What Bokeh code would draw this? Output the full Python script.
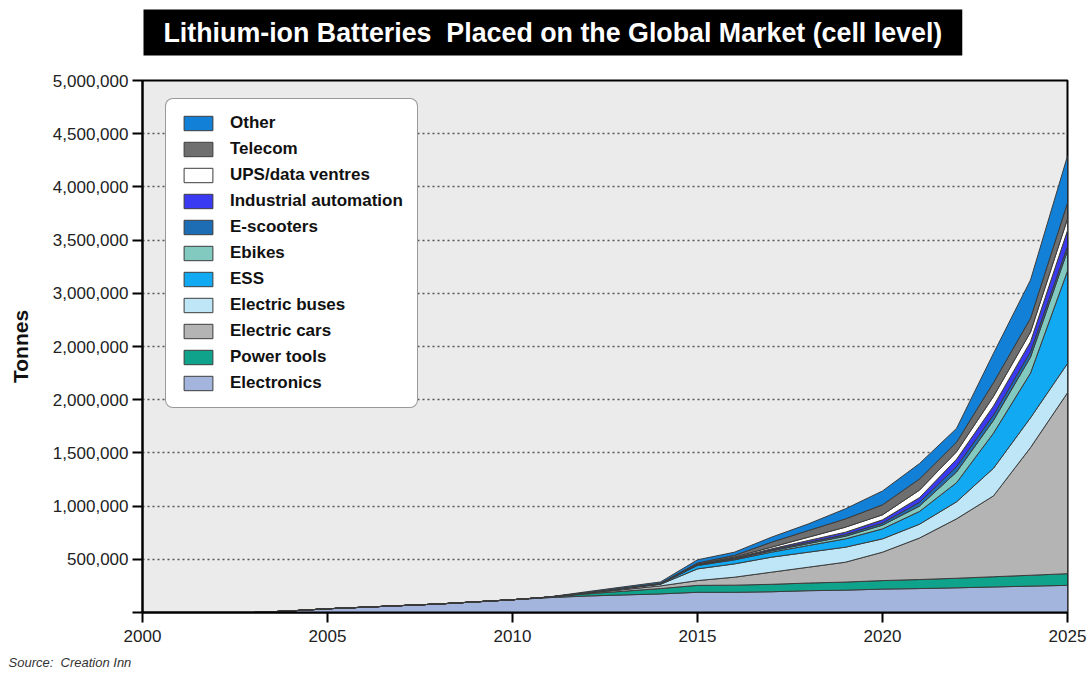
import numpy as np
from bokeh.plotting import figure
from bokeh.models import (Legend, LegendItem, Title, FixedTicker,
                          NumeralTickFormatter, Range1d)
from bokeh.embed import file_html
from bokeh.resources import INLINE

# ---------------- data ----------------
years = list(range(2000, 2026))
electronics = [0, 0, 0, 0, 15000, 35000, 50000, 65000, 80000, 100000, 120000,
               140000, 155000, 165000, 175000, 190000, 190000, 195000, 205000,
               210000, 220000, 225000, 232000, 240000, 248000, 255000]
power_tools = [0] * 11 + [5000, 20000, 35000, 50000, 65000, 67000, 70000, 72000,
                          76000, 80000, 85000, 90000, 96000, 102000, 110000]
electric_cars = [0] * 12 + [5000, 15000, 25000, 45000, 75000, 114000, 149000,
                            187000, 267000, 390000, 558000, 760000, 1200000, 1700000]
electric_buses = [0] * 12 + [5000, 10000, 15000, 110000, 125000, 141000, 141000,
                             141000, 125000, 130000, 160000, 260000, 280000, 275000]
ess = [0] * 13 + [2000, 3000, 32000, 38000, 47000, 63000, 78000, 94000, 120000,
                  180000, 330000, 420000, 870000]
ebikes = [0] * 13 + [1000, 2000, 5000, 8000, 12000, 18000, 25000, 35000, 50000,
                     100000, 120000, 150000, 190000]
escooters = [0] * 13 + [1000, 2000, 4000, 6000, 9000, 12000, 15000, 20000, 35000,
                        50000, 50000, 50000, 40000]
industrial = [0] * 15 + [2000, 5000, 10000, 17000, 23000, 30000, 45000, 70000,
                         85000, 95000, 150000]
ups = [0] * 15 + [2000, 8000, 16000, 31000, 47000, 47000, 70000, 70000, 90000,
                  90000, 110000]
telecom = [0] * 12 + [2000, 2000, 3000, 10000, 15000, 47000, 63000, 78000, 94000,
                      105000, 90000, 130000, 130000, 150000]
other = [0] * 11 + [2000, 8000, 10000, 12000, 30000, 30000, 47000, 62000, 95000,
                    130000, 145000, 130000, 275000, 360000, 440000]

series_names = ["Electronics", "Power tools", "Electric cars", "Electric buses",
                "ESS", "Ebikes", "E-scooters", "Industrial automation",
                "UPS/data ventres", "Telecom", "Other"]
series_values = [electronics, power_tools, electric_cars, electric_buses, ess,
                 ebikes, escooters, industrial, ups, telecom, other]
series_colors = ["#a3b5dd", "#0fa38b", "#b4b4b4", "#bfe6f7", "#10a9f2",
                 "#82c9c0", "#1c6db3", "#3a3af2", "#ffffff", "#6f6f6f", "#1180d6"]

x_ticks = [2000, 2005, 2010, 2015, 2020, 2025]
y_ticks = [0, 500000, 1000000, 1500000, 2000000, 2500000, 3000000, 3500000,
           4000000, 4500000, 5000000]
y_tick_labels = ["", "500,000", "1,000,000", "1,500,000", "2,000,000", "2,000,000",
                 "3,000,000", "3,500,000", "4,000,000", "4,500,000", "5,000,000"]

FONT = "Liberation Sans"

p = figure(width=1089, height=680, output_backend="svg", toolbar_location=None,
           x_range=Range1d(2000, 2025), y_range=Range1d(0, 5000000),
           min_border_left=142, min_border_right=22, min_border_top=80,
           min_border_bottom=68)
p.background_fill_color = "#ebebeb"
p.border_fill_color = "white"
p.outline_line_color = "black"
p.outline_line_width = 2

# stacked areas
base = np.zeros(len(years))
renderers = []
for name, vals, color in zip(series_names, series_values, series_colors):
    top = base + np.array(vals, dtype=float)
    xs = list(years) + list(years[::-1])
    ys = list(top) + list(base[::-1])
    r = p.patch(xs, ys, fill_color=color, line_color="#3c3c3c", line_width=1)
    renderers.append(r)
    base = top

# grid
p.xgrid.visible = False
p.ygrid.grid_line_color = "#555555"
p.ygrid.grid_line_dash = "2 3"
p.ygrid.grid_line_width = 1.5
p.ygrid.ticker = FixedTicker(ticks=y_ticks)

# axes
for ax in (p.xaxis, p.yaxis):
    ax.axis_line_color = "black"
    ax.axis_line_width = 2
    ax.major_tick_line_color = "black"
    ax.major_tick_line_width = 2
    ax.major_tick_out = 10
    ax.major_tick_in = 0
    ax.minor_tick_line_color = None
    ax.major_label_text_font = FONT
    ax.major_label_text_font_size = "17px"
    ax.major_label_text_color = "#222222"

p.xaxis.ticker = FixedTicker(ticks=x_ticks)
p.xaxis.major_label_standoff = 7
p.yaxis.ticker = FixedTicker(ticks=y_ticks)
p.yaxis.formatter = NumeralTickFormatter(format="0,0")
p.yaxis.major_label_overrides = {t: l for t, l in zip(y_ticks, y_tick_labels)}
p.yaxis.major_label_standoff = 4
p.yaxis.axis_label = "Tonnes"
p.yaxis.axis_label_text_font = FONT
p.yaxis.axis_label_text_font_style = "bold"
p.yaxis.axis_label_text_font_size = "21px"
p.yaxis.axis_label_text_color = "#111111"
p.yaxis.axis_label_standoff = 18

# legend
items = [LegendItem(label=n, renderers=[r])
         for n, r in zip(series_names[::-1], renderers[::-1])]
legend = Legend(items=items, location=(23, 204))
legend.background_fill_color = "white"
legend.background_fill_alpha = 1
legend.border_line_color = "#333333"
legend.border_line_width = 1.5
legend.glyph_width = 36
legend.glyph_height = 18
legend.label_height = 19
legend.label_text_font = FONT
legend.label_text_font_style = "bold"
legend.label_text_font_size = "17px"
legend.label_text_color = "#111111"
legend.label_standoff = 14
legend.spacing = 6
legend.padding = 14
legend.margin = 0
if "border_radius" in Legend.properties():
    legend.border_radius = 8
p.add_layout(legend)

# titles: built-in title left empty, a small spacer next to the frame,
# then the black title box on top
p.title.text = ""
spacer = Title(text="\u00a0", text_font_size="10px", standoff=6,
               text_color="white")
p.add_layout(spacer, "above")
main_title = Title(text="Lithium-ion Batteries\u00a0 Placed on the Global Market (cell level)",
                   align="left", offset=1, standoff=12,
                   text_font=FONT, text_font_style="bold", text_font_size="26.8px",
                   text_color="white", background_fill_color="black",
                   padding=(20, 8))
p.add_layout(main_title, "above")

source = Title(text="Source:\u00a0 Creation Inn", align="left",
               offset=-134, text_font=FONT, text_font_style="italic",
               text_font_size="13px", text_color="#333333", standoff=16)
p.add_layout(source, "below")

open("out.html", "w").write(file_html(p, INLINE))
